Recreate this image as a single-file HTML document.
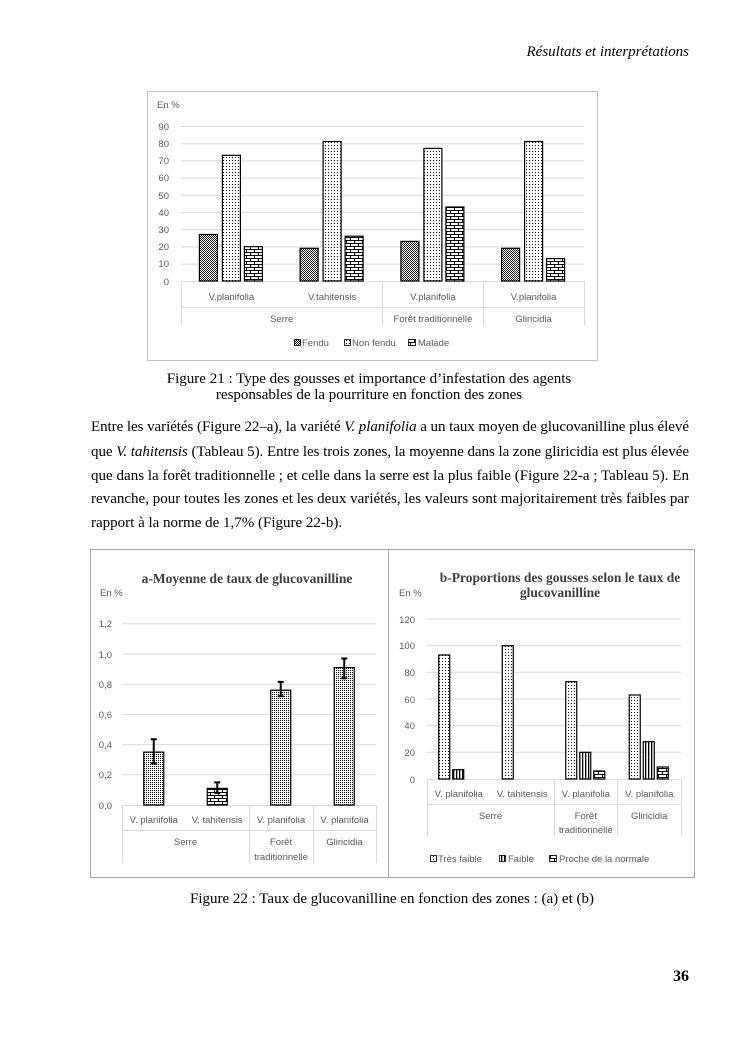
<!DOCTYPE html>
<html><head><meta charset="utf-8"><style>
html,body{margin:0;padding:0;background:#fff;}
svg{display:block;}
.s{font-family:"Liberation Sans",sans-serif;fill:#595959;font-size:9.5px;}
.t{font-family:"Liberation Serif",serif;fill:#000;font-size:15px;}
</style></head><body>
<svg width="745" height="1053" viewBox="0 0 745 1053" xmlns="http://www.w3.org/2000/svg">
<defs>
<pattern id="dots" width="3" height="3" patternUnits="userSpaceOnUse"><rect width="3" height="3" fill="#fff"/><rect x="1" y="1" width="1" height="1" fill="#000"/></pattern>
<pattern id="dots2" width="2" height="2" patternUnits="userSpaceOnUse"><rect width="2" height="2" fill="#fff"/><rect x="0" y="0" width="1" height="1" fill="#000"/></pattern>
<pattern id="chk" width="2" height="2" patternUnits="userSpaceOnUse"><rect width="2" height="2" fill="#fff"/><rect width="1" height="1" fill="#222"/><rect x="1" y="1" width="1" height="1" fill="#222"/></pattern>
<pattern id="brick" width="8" height="6" patternUnits="userSpaceOnUse"><rect width="8" height="6" fill="#fff"/><path d="M0 0.5H8M0 3.5H8M2.5 0.5V3.5M6.5 3.5V6" stroke="#000" stroke-width="1"/></pattern>
<pattern id="vl" width="3" height="3" patternUnits="userSpaceOnUse"><rect width="3" height="3" fill="#fff"/><rect x="0" width="1.3" height="3" fill="#000"/></pattern>
</defs>
<rect width="745" height="1053" fill="#fff"/>
<text x="689" y="56" text-anchor="end" class="t" font-style="italic">Résultats et interprétations</text>

<!-- Chart 1 -->
<rect x="147.5" y="91.5" width="450" height="269" fill="none" stroke="#bfbfbf"/>
<text x="157" y="108" class="s">En %</text>
<g stroke="#d9d9d9" stroke-width="1">
<line x1="181" x2="584" y1="126.5" y2="126.5"/><line x1="181" x2="584" y1="143.7" y2="143.7"/><line x1="181" x2="584" y1="160.9" y2="160.9"/><line x1="181" x2="584" y1="178.1" y2="178.1"/><line x1="181" x2="584" y1="195.3" y2="195.3"/><line x1="181" x2="584" y1="212.5" y2="212.5"/><line x1="181" x2="584" y1="229.7" y2="229.7"/><line x1="181" x2="584" y1="246.9" y2="246.9"/><line x1="181" x2="584" y1="264.1" y2="264.1"/><line x1="181" x2="584" y1="281.5" y2="281.5"/>
<line x1="181.5" x2="181.5" y1="281" y2="325"/><line x1="382.5" x2="382.5" y1="281" y2="325"/><line x1="483.5" x2="483.5" y1="281" y2="325"/><line x1="584.5" x2="584.5" y1="281" y2="325"/>
<line x1="181" x2="584" y1="307.5" y2="307.5"/>
</g>
<g class="s" text-anchor="end">
<text x="169" y="130">90</text><text x="169" y="147">80</text><text x="169" y="164">70</text><text x="169" y="181">60</text><text x="169" y="199">50</text><text x="169" y="216">40</text><text x="169" y="233">30</text><text x="169" y="250">20</text><text x="169" y="267">10</text><text x="169" y="285">0</text>
</g>
<g stroke="#000" stroke-width="1.2">
<rect x="199.4" y="234.5" width="18" height="46.5" fill="url(#chk)"/><rect x="222.4" y="155.3" width="18" height="125.7" fill="url(#dots)"/><rect x="244.4" y="246.6" width="18" height="34.4" fill="url(#brick)"/>
<rect x="300.1" y="248.3" width="18" height="32.7" fill="url(#chk)"/><rect x="323.1" y="141.5" width="18" height="139.5" fill="url(#dots)"/><rect x="345.1" y="236.2" width="18" height="44.8" fill="url(#brick)"/>
<rect x="400.9" y="241.4" width="18" height="39.6" fill="url(#chk)"/><rect x="423.9" y="148.4" width="18" height="132.6" fill="url(#dots)"/><rect x="445.9" y="207" width="18" height="74" fill="url(#brick)"/>
<rect x="501.6" y="248.3" width="18" height="32.7" fill="url(#chk)"/><rect x="524.6" y="141.5" width="18" height="139.5" fill="url(#dots)"/><rect x="546.6" y="258.6" width="18" height="22.4" fill="url(#brick)"/>
</g>
<g class="s" text-anchor="middle">
<text x="231.4" y="300">V.planifolia</text><text x="332.1" y="300">V.tahitensis</text><text x="432.9" y="300">V.planifolia</text><text x="533.6" y="300">V.planifolia</text>
<text x="281.7" y="322">Serre</text><text x="432.9" y="322">Forêt traditionnelle</text><text x="533.6" y="322">Gliricidia</text>
</g>
<g stroke="#000" stroke-width="0.8">
<rect x="294.5" y="339.5" width="6" height="6" fill="url(#chk)"/><rect x="344.5" y="339.5" width="6" height="6" fill="url(#dots)"/><rect x="408.5" y="339.5" width="7" height="6" fill="url(#brick)"/>
</g>
<g class="s"><text x="302" y="346">Fendu</text><text x="352" y="346">Non fendu</text><text x="418" y="346">Malade</text></g>

<text x="369" y="383" text-anchor="middle" class="t">Figure 21 : Type des gousses et importance d’infestation des agents</text>
<text x="369" y="399" text-anchor="middle" class="t">responsables de la pourriture en fonction des zones</text>

<text x="91" y="431" class="t" textLength="598" lengthAdjust="spacing">Entre les variétés (Figure 22–a), la variété <tspan font-style="italic">V. planifolia</tspan> a un taux moyen de glucovanilline plus élevé</text>
<text x="91" y="456" class="t" textLength="598" lengthAdjust="spacing">que <tspan font-style="italic">V. tahitensis</tspan> (Tableau 5). Entre les trois zones, la moyenne dans la zone gliricidia est plus élevée</text>
<text x="91" y="480" class="t" textLength="598" lengthAdjust="spacing">que dans la forêt traditionnelle ; et celle dans la serre est la plus faible (Figure 22-a ; Tableau 5). En</text>
<text x="91" y="503" class="t" textLength="598" lengthAdjust="spacing">revanche, pour toutes les zones et les deux variétés, les valeurs sont majoritairement très faibles par</text>
<text x="91" y="527" class="t">rapport à la norme de 1,7% (Figure 22-b).</text>

<!-- Chart a -->
<rect x="90.5" y="549.5" width="298" height="328" fill="none" stroke="#a6a6a6"/>
<text x="247" y="583" text-anchor="middle" class="t" font-weight="bold" style="fill:#404040;font-size:13.5px">a-Moyenne de taux de glucovanilline</text>
<text x="100" y="596" class="s">En %</text>
<g stroke="#d9d9d9">
<line x1="122" x2="376" y1="623.8" y2="623.8"/><line x1="122" x2="376" y1="654" y2="654"/><line x1="122" x2="376" y1="684.2" y2="684.2"/><line x1="122" x2="376" y1="714.4" y2="714.4"/><line x1="122" x2="376" y1="744.6" y2="744.6"/><line x1="122" x2="376" y1="774.8" y2="774.8"/><line x1="122" x2="376" y1="805.5" y2="805.5"/>
<line x1="122.5" x2="122.5" y1="805" y2="863"/><line x1="249.5" x2="249.5" y1="805" y2="863"/><line x1="313.5" x2="313.5" y1="805" y2="863"/><line x1="376.5" x2="376.5" y1="805" y2="863"/>
<line x1="122" x2="376" y1="830.5" y2="830.5"/>
</g>
<g class="s" text-anchor="end">
<text x="112" y="627">1,2</text><text x="112" y="658">1,0</text><text x="112" y="688">0,8</text><text x="112" y="718">0,6</text><text x="112" y="748">0,4</text><text x="112" y="778">0,2</text><text x="112" y="809">0,0</text>
</g>
<g stroke="#000" stroke-width="1.2">
<rect x="143.75" y="752.1" width="20" height="52.9" fill="url(#dots2)"/>
<rect x="207.25" y="788.4" width="20" height="16.6" fill="url(#brick)"/>
<rect x="270.75" y="690.2" width="20" height="114.8" fill="url(#dots2)"/>
<rect x="334.25" y="667.6" width="20" height="137.4" fill="url(#dots2)"/>
</g>
<g stroke="#000" stroke-width="2">
<path d="M153.75 739.3V763.5M150.75 739.3H156.75M150.75 763.5H156.75"/>
<path d="M217.25 782.4V792.9M214.25 782.4H220.25M214.25 792.9H220.25"/>
<path d="M280.75 681.9V696.3M277.75 681.9H283.75M277.75 696.3H283.75"/>
<path d="M344.25 658.5V678.2M341.25 658.5H347.25M341.25 678.2H347.25"/>
</g>
<g class="s" text-anchor="middle">
<text x="153.75" y="823">V. planifolia</text><text x="217.25" y="823">V. tahitensis</text><text x="281" y="823">V. planifolia</text><text x="344.5" y="823">V. planifolia</text>
<text x="185.5" y="845">Serre</text><text x="281" y="845">Forêt</text><text x="281" y="860">traditionnelle</text><text x="344.5" y="845">Gliricidia</text>
</g>

<!-- Chart b -->
<rect x="388.5" y="549.5" width="306" height="328" fill="none" stroke="#a6a6a6"/>
<text x="560" y="582" text-anchor="middle" class="t" font-weight="bold" style="fill:#404040;font-size:13.5px">b-Proportions des gousses selon le taux de</text>
<text x="560" y="597" text-anchor="middle" class="t" font-weight="bold" style="fill:#404040;font-size:13.5px">glucovanilline</text>
<text x="399" y="596" class="s">En %</text>
<g stroke="#d9d9d9">
<line x1="427" x2="681" y1="619" y2="619"/><line x1="427" x2="681" y1="645.7" y2="645.7"/><line x1="427" x2="681" y1="672.3" y2="672.3"/><line x1="427" x2="681" y1="699" y2="699"/><line x1="427" x2="681" y1="725.7" y2="725.7"/><line x1="427" x2="681" y1="752.3" y2="752.3"/><line x1="427" x2="681" y1="779.5" y2="779.5"/>
<line x1="427.5" x2="427.5" y1="779" y2="836"/><line x1="554.5" x2="554.5" y1="779" y2="836"/><line x1="617.5" x2="617.5" y1="779" y2="836"/><line x1="681.5" x2="681.5" y1="779" y2="836"/>
<line x1="427" x2="681" y1="804.5" y2="804.5"/>
</g>
<g class="s" text-anchor="end">
<text x="415" y="623">120</text><text x="415" y="649">100</text><text x="415" y="676">80</text><text x="415" y="703">60</text><text x="415" y="729">40</text><text x="415" y="756">20</text><text x="415" y="783">0</text>
</g>
<g stroke="#000" stroke-width="1.2">
<rect x="438.75" y="655" width="11" height="124" fill="url(#dots)"/><rect x="452.75" y="769.7" width="11" height="9.3" fill="url(#vl)"/>
<rect x="502.25" y="645.7" width="11" height="133.3" fill="url(#dots)"/>
<rect x="565.75" y="681.7" width="11" height="97.3" fill="url(#dots)"/><rect x="579.75" y="752.3" width="11" height="26.7" fill="url(#vl)"/><rect x="593.75" y="771" width="11" height="8" fill="url(#brick)"/>
<rect x="629.25" y="695" width="11" height="84" fill="url(#dots)"/><rect x="643.25" y="741.7" width="11" height="37.3" fill="url(#vl)"/><rect x="657.25" y="767" width="11" height="12" fill="url(#brick)"/>
</g>
<g class="s" text-anchor="middle">
<text x="458.75" y="797">V. planifolia</text><text x="522.25" y="797">V. tahitensis</text><text x="585.75" y="797">V. planifolia</text><text x="649.25" y="797">V. planifolia</text>
<text x="490.5" y="819">Serre</text><text x="585.75" y="819">Forêt</text><text x="585.75" y="833">traditionnelle</text><text x="649.25" y="819">Gliricidia</text>
</g>
<g stroke="#000" stroke-width="0.8">
<rect x="430.5" y="855.5" width="6" height="6" fill="url(#dots)"/><rect x="499.5" y="855.5" width="6" height="6" fill="url(#vl)"/><rect x="549.5" y="855.5" width="7" height="6" fill="url(#brick)"/>
</g>
<g class="s"><text x="438" y="862">Très faible</text><text x="508" y="862">Faible</text><text x="559" y="862">Proche de la normale</text></g>

<text x="392" y="903" text-anchor="middle" class="t">Figure 22 : Taux de glucovanilline en fonction des zones : (a) et (b)</text>
<text x="689" y="981" text-anchor="end" class="t" font-weight="bold" style="font-size:16px">36</text>
</svg>
</body></html>
